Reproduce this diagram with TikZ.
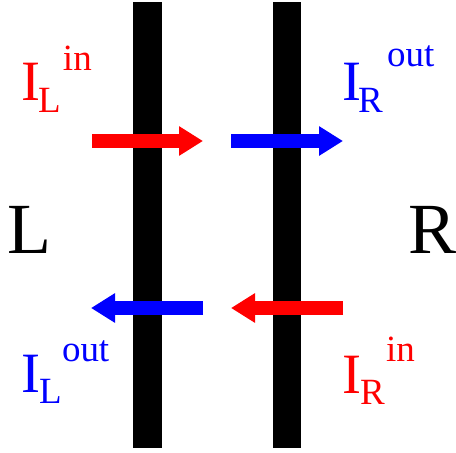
\documentclass[tikz,border=0pt]{standalone}
\usepackage{fontspec}
\setmainfont{Liberation Serif}
\usetikzlibrary{arrows.meta}
\definecolor{ared}{RGB}{255,0,0}
\definecolor{ablue}{RGB}{0,0,255}
\begin{document}
\begin{tikzpicture}[x=1pt,y=-1pt,
  bar/.style={fill=black,draw=none},
  flow/.style={line width=14pt,-{Triangle[length=24pt,width=28pt]}},
  lbl/.style={anchor=base west,inner sep=0pt,outer sep=0pt},
  bigI/.style={lbl,font=\fontsize{57}{60}\selectfont},
  small/.style={lbl,font=\fontsize{37}{40}\selectfont},
  side/.style={lbl,font=\fontsize{72}{76}\selectfont}]
\useasboundingbox (0,0) rectangle (456,453);
% membranes
\fill[bar] (133,2) rectangle (162,448);
\fill[bar] (273,2) rectangle (301,448);
% arrow end points
\coordinate (a1s) at (92,141);  \coordinate (a1e) at (203,141);
\coordinate (a2s) at (231,141); \coordinate (a2e) at (343,141);
\coordinate (a3s) at (203,308); \coordinate (a3e) at (91,308);
\coordinate (a4s) at (343,308); \coordinate (a4e) at (231,308);
\draw[flow,ared] (a1s) -- (a1e);
\draw[flow,ablue] (a2s) -- (a2e);
\draw[flow,ablue] (a3s) -- (a3e);
\draw[flow,ared] (a4s) -- (a4e);
% side labels
\node[side] (L) at (7,253) {L};
\node[side] (R) at (408,253) {R};
% I_L^in
\node[bigI,text=ared] (i1) at (21,100) {I};
\node[small,text=ared] (i1s) at (38,112) {L};
\node[small,text=ared] (i1p) at (63,70) {in};
% I_R^out
\node[bigI,text=ablue] (i2) at (342,100) {I};
\node[small,text=ablue] (i2s) at (358,112) {R};
\node[small,text=ablue] (i2p) at (387,66) {out};
% I_L^out
\node[bigI,text=ablue] (i3) at (21,392) {I};
\node[small,text=ablue] (i3s) at (39,403) {L};
\node[small,text=ablue] (i3p) at (62,361) {out};
% I_R^in
\node[bigI,text=ared] (i4) at (342,393) {I};
\node[small,text=ared] (i4s) at (360,404) {R};
\node[small,text=ared] (i4p) at (386,361) {in};
\end{tikzpicture}
\end{document}
